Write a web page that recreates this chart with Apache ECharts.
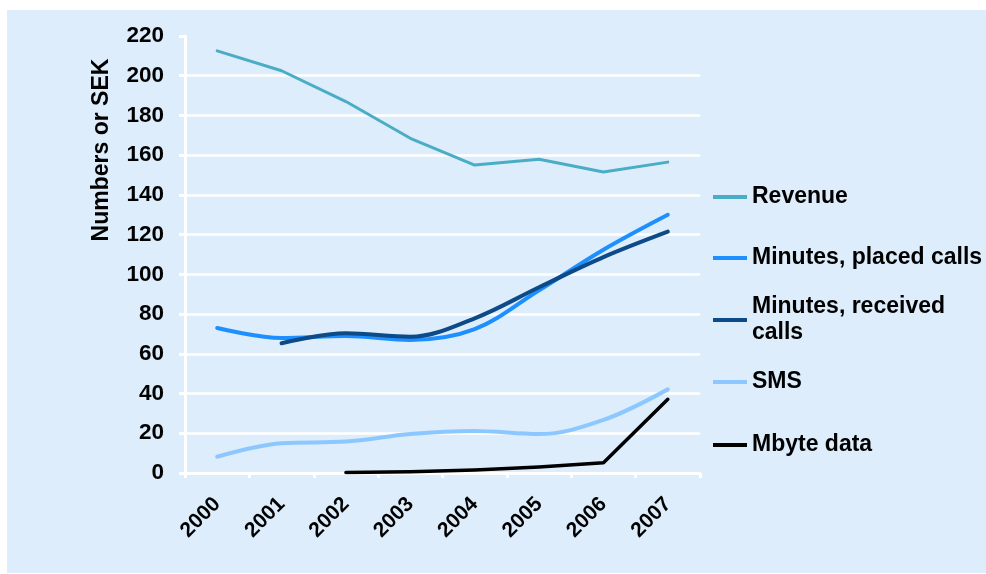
<!DOCTYPE html>
<html>
<head>
<meta charset="utf-8">
<script src="https://cdn.jsdelivr.net/npm/echarts@6/dist/echarts.min.js"></script>
<style>
html,body{margin:0;padding:0;background:#ffffff;}
#bg{position:absolute;left:7px;top:10px;width:979px;height:563px;background:#DDEDFB;}
#chart{position:absolute;left:0;top:0;width:986px;height:574px;}
</style>
</head>
<body>
<div id="bg"></div>
<div id="chart"></div>
<script>
const years = ['2000','2001','2002','2003','2004','2005','2006','2007'];
const revenue = [212.5, 202.5, 187, 168.5, 155, 158, 151.5, 156.5];
const minutesPlaced = [73, 68, 69, 67, 72.4, 92, 112.4, 130];
const minutesReceived = [null, 65.3, 70.3, 68.6, 77.9, 93.5, 108.7, 121.5];
const sms = [8.2, 15, 15.8, 19.6, 21.1, 19.6, 26.7, 42.1];
const mbyte = [null, null, 0.2, 0.6, 1.5, 3, 5.2, 37.1];
const yTicks = {min: 0, max: 220, interval: 20};
const yAxisTitle = 'Numbers or SEK';

const FONT = '"Liberation Sans", Arial, sans-serif';
const chart = echarts.init(document.getElementById('chart'), null, {renderer: 'canvas'});

const seriesDefs = [
  {name: 'Revenue', data: revenue, color: '#4BACC6', width: 3, smooth: false, legendY: 197},
  {name: 'Minutes, placed calls', data: minutesPlaced, color: '#1E8FFF', width: 4, smooth: 0.35, legendY: 258},
  {name: 'Minutes, received calls', data: minutesReceived, color: '#0C4A88', width: 4, smooth: 0.35, legendY: 320, twoLine: true},
  {name: 'SMS', data: sms, color: '#8CC8FF', width: 4, smooth: 0.35, legendY: 382},
  {name: 'Mbyte data', data: mbyte, color: '#000000', width: 3.5, smooth: false, legendY: 445}
];

const legends = seriesDefs.map(d => ({
  data: [d.name],
  orient: 'vertical',
  left: 713,
  top: d.twoLine ? d.legendY - 39 : d.legendY - 13,
  icon: 'rect',
  itemWidth: 34,
  itemHeight: 4,
  itemGap: 0,
  padding: 0,
  selectedMode: false,
  formatter: d.twoLine ? (n => 'Minutes, received\ncalls') : undefined,
  textStyle: Object.assign({
    fontFamily: FONT, fontWeight: 'bold', fontSize: 23, color: '#000', lineHeight: 26
  }, d.twoLine ? {padding: [26, 0, 0, 0]} : {})
}));

const option = {
  animation: false,
  backgroundColor: 'transparent',
  grid: {left: 185, right: 286, top: 36, bottom: 101, containLabel: false},
  legend: legends,
  graphic: [{
    type: 'text',
    x: 102, y: 150,
    rotation: Math.PI / 2,
    style: {
      text: yAxisTitle,
      font: 'bold 23px ' + FONT,
      fill: '#000',
      align: 'center',
      verticalAlign: 'middle'
    }
  }],
  xAxis: {
    type: 'category',
    data: years,
    boundaryGap: true,
    axisLine: {show: true, lineStyle: {color: '#ffffff', width: 3}},
    axisTick: {show: true, length: 5, lineStyle: {color: '#ffffff', width: 3}},
    axisLabel: {rotate: 45, margin: 28, fontFamily: FONT, fontWeight: 'bold', fontSize: 21, color: '#000'},
    splitLine: {show: false}
  },
  yAxis: {
    type: 'value',
    min: yTicks.min, max: yTicks.max, interval: yTicks.interval,
    axisLine: {show: true, lineStyle: {color: '#ffffff', width: 3}},
    axisTick: {show: true, length: 6, lineStyle: {color: '#ffffff', width: 3}},
    axisLabel: {margin: 21, fontFamily: FONT, fontWeight: 'bold', fontSize: 22.5, color: '#000'},
    splitLine: {show: true, showMaxLine: false, lineStyle: {color: '#ffffff', width: 2.5}}
  },
  series: seriesDefs.map(d => ({
    name: d.name,
    type: 'line',
    data: d.data,
    smooth: d.smooth,
    symbol: 'none',
    showSymbol: false,
    connectNulls: false,
    color: d.color,
    lineStyle: {color: d.color, width: d.width, cap: 'round', join: 'round'}
  }))
};
chart.setOption(option);
</script>
</body>
</html>
